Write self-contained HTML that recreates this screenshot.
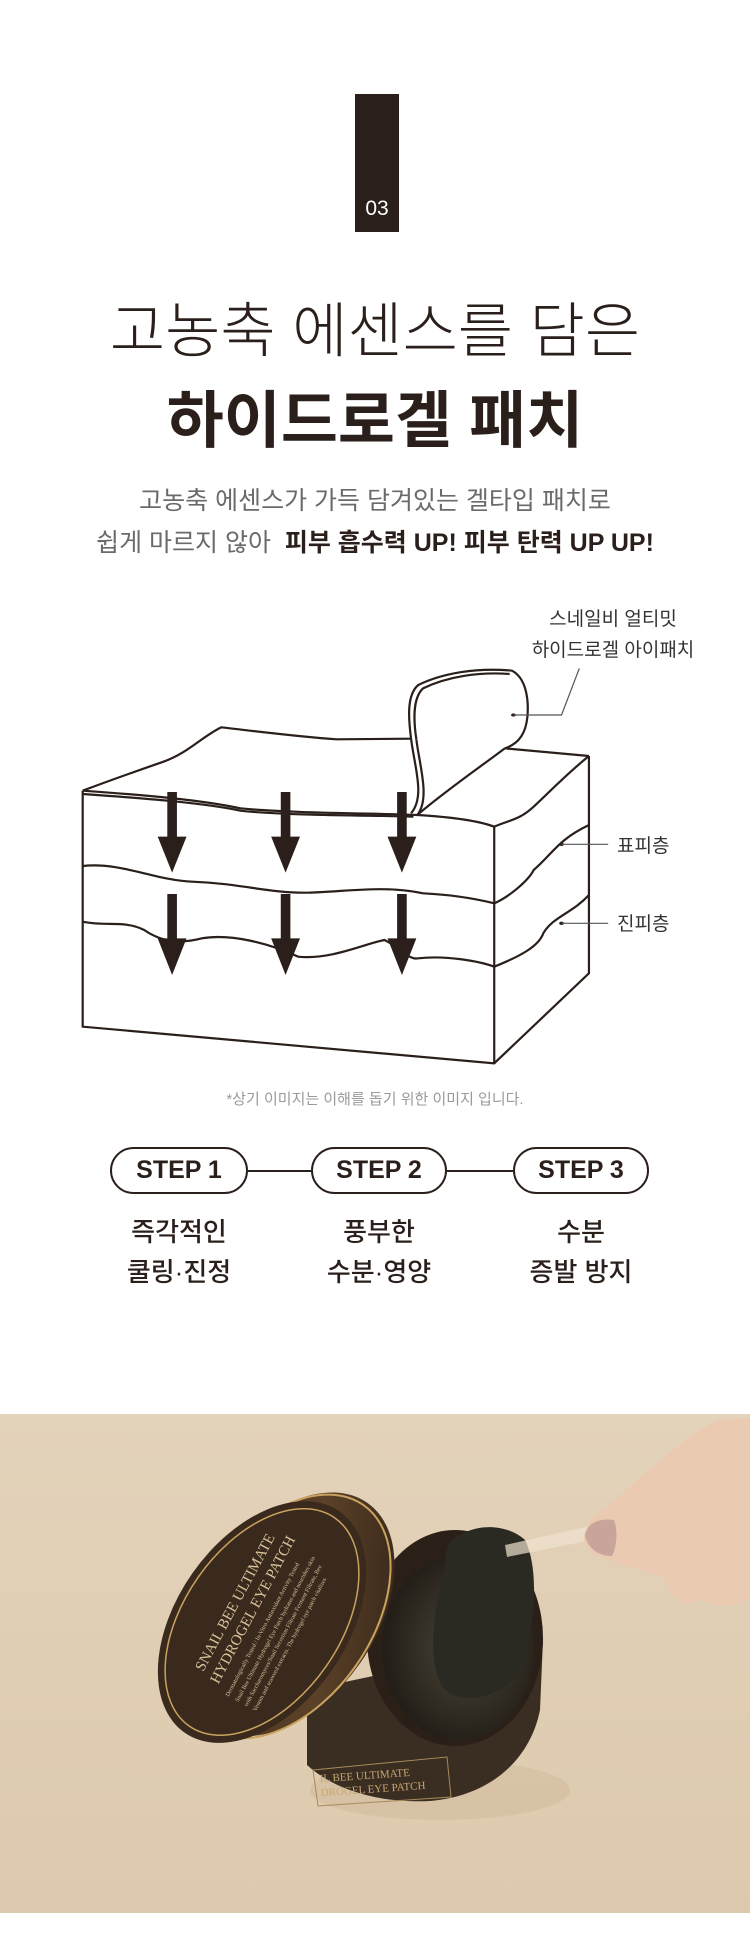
<!DOCTYPE html>
<html><head><meta charset="utf-8"><style>
html,body{margin:0;padding:0}
body{width:750px;height:1956px;position:relative;background:#fff;overflow:hidden;font-family:"Liberation Sans","Noto Sans CJK KR",sans-serif;color:#2a1f1a}
.a{position:absolute;white-space:nowrap}
.c{left:0;width:750px;text-align:center}
</style></head><body>
<div class="a" style="left:355px;top:94px;width:44px;height:138px;background:#2a1f1a"></div>
<div class="a" style="left:355px;top:196px;width:44px;text-align:center;color:#fff;font-size:21px;line-height:26px">03</div>
<div class="a c" style="top:292px;font-size:60px;line-height:80px;font-weight:300;color:#2a1f1a">고농축 에센스를 담은</div>
<div class="a c" style="top:382px;font-size:62px;line-height:80px;font-weight:700;color:#2a1f1a">하이드로겔 패치</div>
<div class="a c" style="top:484px;font-size:25px;line-height:34px;color:#6a6a6a">고농축 에센스가 가득 담겨있는 겔타입 패치로</div>
<div class="a c" style="top:526px;font-size:25px;line-height:34px;color:#6a6a6a">쉽게 마르지 않아 &nbsp;<b style="color:#2a1f1a">피부 흡수력 UP! 피부 탄력 UP UP!</b></div>

<svg class="a" style="left:0;top:580px" width="750" height="500" viewBox="0 0 1560 1500" preserveAspectRatio="none">
<g fill="none" stroke="#2a1f1a" stroke-width="2.2">
<path vector-effect="non-scaling-stroke" d="M172,632 C250,590 300,565 340,545 C390,520 420,470 460,442 C540,455 620,470 700,478 L855,476"/>
<path vector-effect="non-scaling-stroke" d="M855,476 C850,420 845,345 870,315 C920,280 990,262 1065,272 C1095,295 1100,360 1097,410 C1094,455 1082,490 1050,505"/>
<path vector-effect="non-scaling-stroke" d="M866,478 C860,420 858,355 880,325 C930,290 995,275 1060,282"/>
<path vector-effect="non-scaling-stroke" d="M855,476 C862,560 885,650 855,700"/>
<path vector-effect="non-scaling-stroke" d="M866,478 C873,560 895,655 868,705"/>
<path vector-effect="non-scaling-stroke" d="M1050,505 L1225,528"/>
<path vector-effect="non-scaling-stroke" d="M1050,505 C990,570 920,640 868,705"/>
<path vector-effect="non-scaling-stroke" d="M1225,528 C1180,580 1140,640 1110,680 C1080,720 1060,720 1028,740"/>
<path vector-effect="non-scaling-stroke" d="M172,632 C300,645 420,660 500,685 C600,700 800,700 868,705 C950,712 1000,725 1028,740"/>
<path vector-effect="non-scaling-stroke" d="M172,642 C300,655 420,668 500,692 C600,708 800,706 860,710"/>
<path vector-effect="non-scaling-stroke" d="M172,632 L172,1340 L1028,1450 L1225,1180 L1225,528 M1028,740 L1028,1450"/>
<path vector-effect="non-scaling-stroke" d="M172,858 C250,845 320,900 400,905 C500,910 560,940 640,938 C720,935 800,915 880,940 C950,945 1000,960 1028,970"/>
<path vector-effect="non-scaling-stroke" d="M1028,970 C1060,950 1100,900 1110,870 C1150,820 1160,780 1225,735"/>
<path vector-effect="non-scaling-stroke" d="M172,1025 C220,1040 260,1020 300,1050 C340,1090 380,1090 420,1075 C480,1060 560,1090 620,1130 C690,1140 760,1090 800,1080 C840,1110 850,1140 870,1135 C930,1125 1000,1145 1028,1160"/>
<path vector-effect="non-scaling-stroke" d="M1028,1160 C1080,1130 1120,1100 1130,1060 C1150,1010 1190,1000 1225,945"/>
</g>
<g fill="#2a1f1a">
<rect x="348" y="636" width="20" height="136"/><path d="M328,770 L388,770 L358,878Z"/>
<rect x="584" y="636" width="20" height="136"/><path d="M564,770 L624,770 L594,878Z"/>
<rect x="826" y="636" width="20" height="136"/><path d="M806,770 L866,770 L836,878Z"/>
<rect x="348" y="942" width="20" height="136"/><path d="M328,1075 L388,1075 L358,1185Z"/>
<rect x="584" y="942" width="20" height="136"/><path d="M564,1075 L624,1075 L594,1185Z"/>
<rect x="826" y="942" width="20" height="136"/><path d="M806,1075 L866,1075 L836,1185Z"/>
<circle cx="1068" cy="405" r="5"/><circle cx="1168" cy="793" r="5"/><circle cx="1168" cy="1030" r="5"/>
</g>
<g fill="none" stroke="#555" stroke-width="1.2">
<path vector-effect="non-scaling-stroke" d="M1068,405 L1168,405 L1205,265"/>
<path vector-effect="non-scaling-stroke" d="M1168,793 L1265,793"/>
<path vector-effect="non-scaling-stroke" d="M1168,1030 L1265,1030"/>
</g>
</svg>
<div class="a" style="left:528px;top:607px;width:170px;text-align:center;font-size:19px;line-height:26px;color:#333">스네일비 얼티밋</div>
<div class="a" style="left:522px;top:638px;width:182px;text-align:center;font-size:19px;line-height:26px;color:#333">하이드로겔 아이패치</div>
<div class="a" style="left:617px;top:834px;font-size:19px;line-height:26px;color:#333">표피층</div>
<div class="a" style="left:617px;top:912px;font-size:19px;line-height:26px;color:#333">진피층</div>

<div class="a c" style="top:1089px;font-size:15px;line-height:22px;color:#9a9a9a">*상기 이미지는 이해를 돕기 위한 이미지 입니다.</div>
<div class="a" style="left:248px;top:1170px;width:63px;height:2px;background:#2a1f1a"></div>
<div class="a" style="left:447px;top:1170px;width:66px;height:2px;background:#2a1f1a"></div>
<div class="a" style="left:110px;top:1147px;width:134px;height:43px;border:2px solid #2a1f1a;border-radius:24px;text-align:center;line-height:43px;font-size:25px;font-weight:700">STEP 1</div>
<div class="a" style="left:311px;top:1147px;width:132px;height:43px;border:2px solid #2a1f1a;border-radius:24px;text-align:center;line-height:43px;font-size:25px;font-weight:700">STEP 2</div>
<div class="a" style="left:513px;top:1147px;width:132px;height:43px;border:2px solid #2a1f1a;border-radius:24px;text-align:center;line-height:43px;font-size:25px;font-weight:700">STEP 3</div>
<div class="a" style="left:79px;top:1212px;width:200px;text-align:center;font-size:26px;line-height:40px;font-weight:500">즉각적인<br>쿨링·진정</div>
<div class="a" style="left:279px;top:1212px;width:200px;text-align:center;font-size:26px;line-height:40px;font-weight:500">풍부한<br>수분·영양</div>
<div class="a" style="left:481px;top:1212px;width:200px;text-align:center;font-size:26px;line-height:40px;font-weight:500">수분<br>증발 방지</div>

<svg class="a" style="left:0;top:1414px" width="750" height="499" viewBox="0 1414 750 499">
<defs>
<linearGradient id="bg" x1="0" y1="0" x2="0" y2="1"><stop offset="0" stop-color="#e3d3ba"/><stop offset="1" stop-color="#ddc9ad"/></linearGradient>
<radialGradient id="inn" cx="0.55" cy="0.5" r="0.6"><stop offset="0" stop-color="#4a4638"/><stop offset="1" stop-color="#1e1a14"/></radialGradient>
<linearGradient id="band" x1="0" y1="0" x2="1" y2="1"><stop offset="0" stop-color="#3a2a1c"/><stop offset="0.6" stop-color="#5c4128"/><stop offset="1" stop-color="#2a1f16"/></linearGradient>
</defs>
<rect x="0" y="1414" width="750" height="499" fill="url(#bg)"/>
<ellipse cx="440" cy="1790" rx="130" ry="30" fill="#d2bd9e" opacity="0.6"/>
<path d="M307,1690 L307,1765 C340,1795 390,1803 430,1801 C490,1796 530,1760 540,1710 L543,1640 Z" fill="#3a2d22"/>
<path d="M313,1770 L447,1757 L451,1797 L318,1806Z" fill="none" stroke="#a88a5a" stroke-width="1"/>
<text x="320" y="1778" font-family="Liberation Serif,serif" font-size="11" fill="#c8a870" transform="rotate(-4 380 1780)">IL BEE ULTIMATE</text>
<text x="320" y="1792" font-family="Liberation Serif,serif" font-size="11" fill="#c8a870" transform="rotate(-4 380 1780)">DROGEL EYE PATCH</text>
<ellipse cx="455" cy="1638" rx="88" ry="108" fill="#2a2018"/>
<ellipse cx="458" cy="1648" rx="76" ry="92" fill="url(#inn)"/>
<path d="M448,1545 C468,1522 505,1522 525,1540 C540,1570 535,1630 520,1670 C500,1700 462,1705 445,1690 C428,1670 432,1620 440,1590 Z" fill="#2b2a22"/>
<path d="M505,1545 L590,1526 L592,1540 L507,1557Z" fill="#efe3cf" opacity="0.7"/>
<g transform="rotate(-55 262 1622)">
<ellipse cx="284" cy="1640" rx="136" ry="86" fill="url(#band)"/>
<ellipse cx="280" cy="1638" rx="136" ry="86" fill="none" stroke="#c9a35e" stroke-width="2"/>
<ellipse cx="262" cy="1622" rx="135" ry="85" fill="#3a2a1e"/>
<ellipse cx="262" cy="1622" rx="127" ry="78" fill="none" stroke="#c9a35e" stroke-width="1.5"/>
</g>
<g transform="rotate(-62 265 1620)" font-family="Liberation Serif,serif" fill="#d9c29a">
<text x="190" y="1590" font-size="15">SNAIL BEE ULTIMATE</text>
<text x="186" y="1609" font-size="15">HYDROGEL EYE PATCH</text>
<text x="180" y="1624" font-size="6">Dermatologically Tested / In-Vitro Antioxidant Activity Tested</text>
<text x="180" y="1635" font-size="6">Snail Bee Ultimate Hydrogel Eye Patch hydrates and nourishes skin</text>
<text x="180" y="1645" font-size="6">with Saccharomyces/Snail Secretion Filtrate Ferment Filtrate, Bee</text>
<text x="180" y="1655" font-size="6">Venom and seaweed extracts. The hydrogel eye patch vitalizes</text>
</g>
<path d="M585,1533 C590,1515 605,1508 615,1500 C640,1478 680,1440 717,1420 L750,1418 L750,1595 C740,1606 720,1610 702,1600 C684,1608 670,1600 665,1578 C640,1570 612,1562 597,1556 C586,1550 582,1542 585,1533Z" fill="#ebcab2"/>
<path d="M585,1535 C588,1522 600,1518 614,1520 C618,1530 617,1546 612,1556 C600,1556 588,1550 585,1535Z" fill="#c9a49a"/>
</svg>
</body></html>
